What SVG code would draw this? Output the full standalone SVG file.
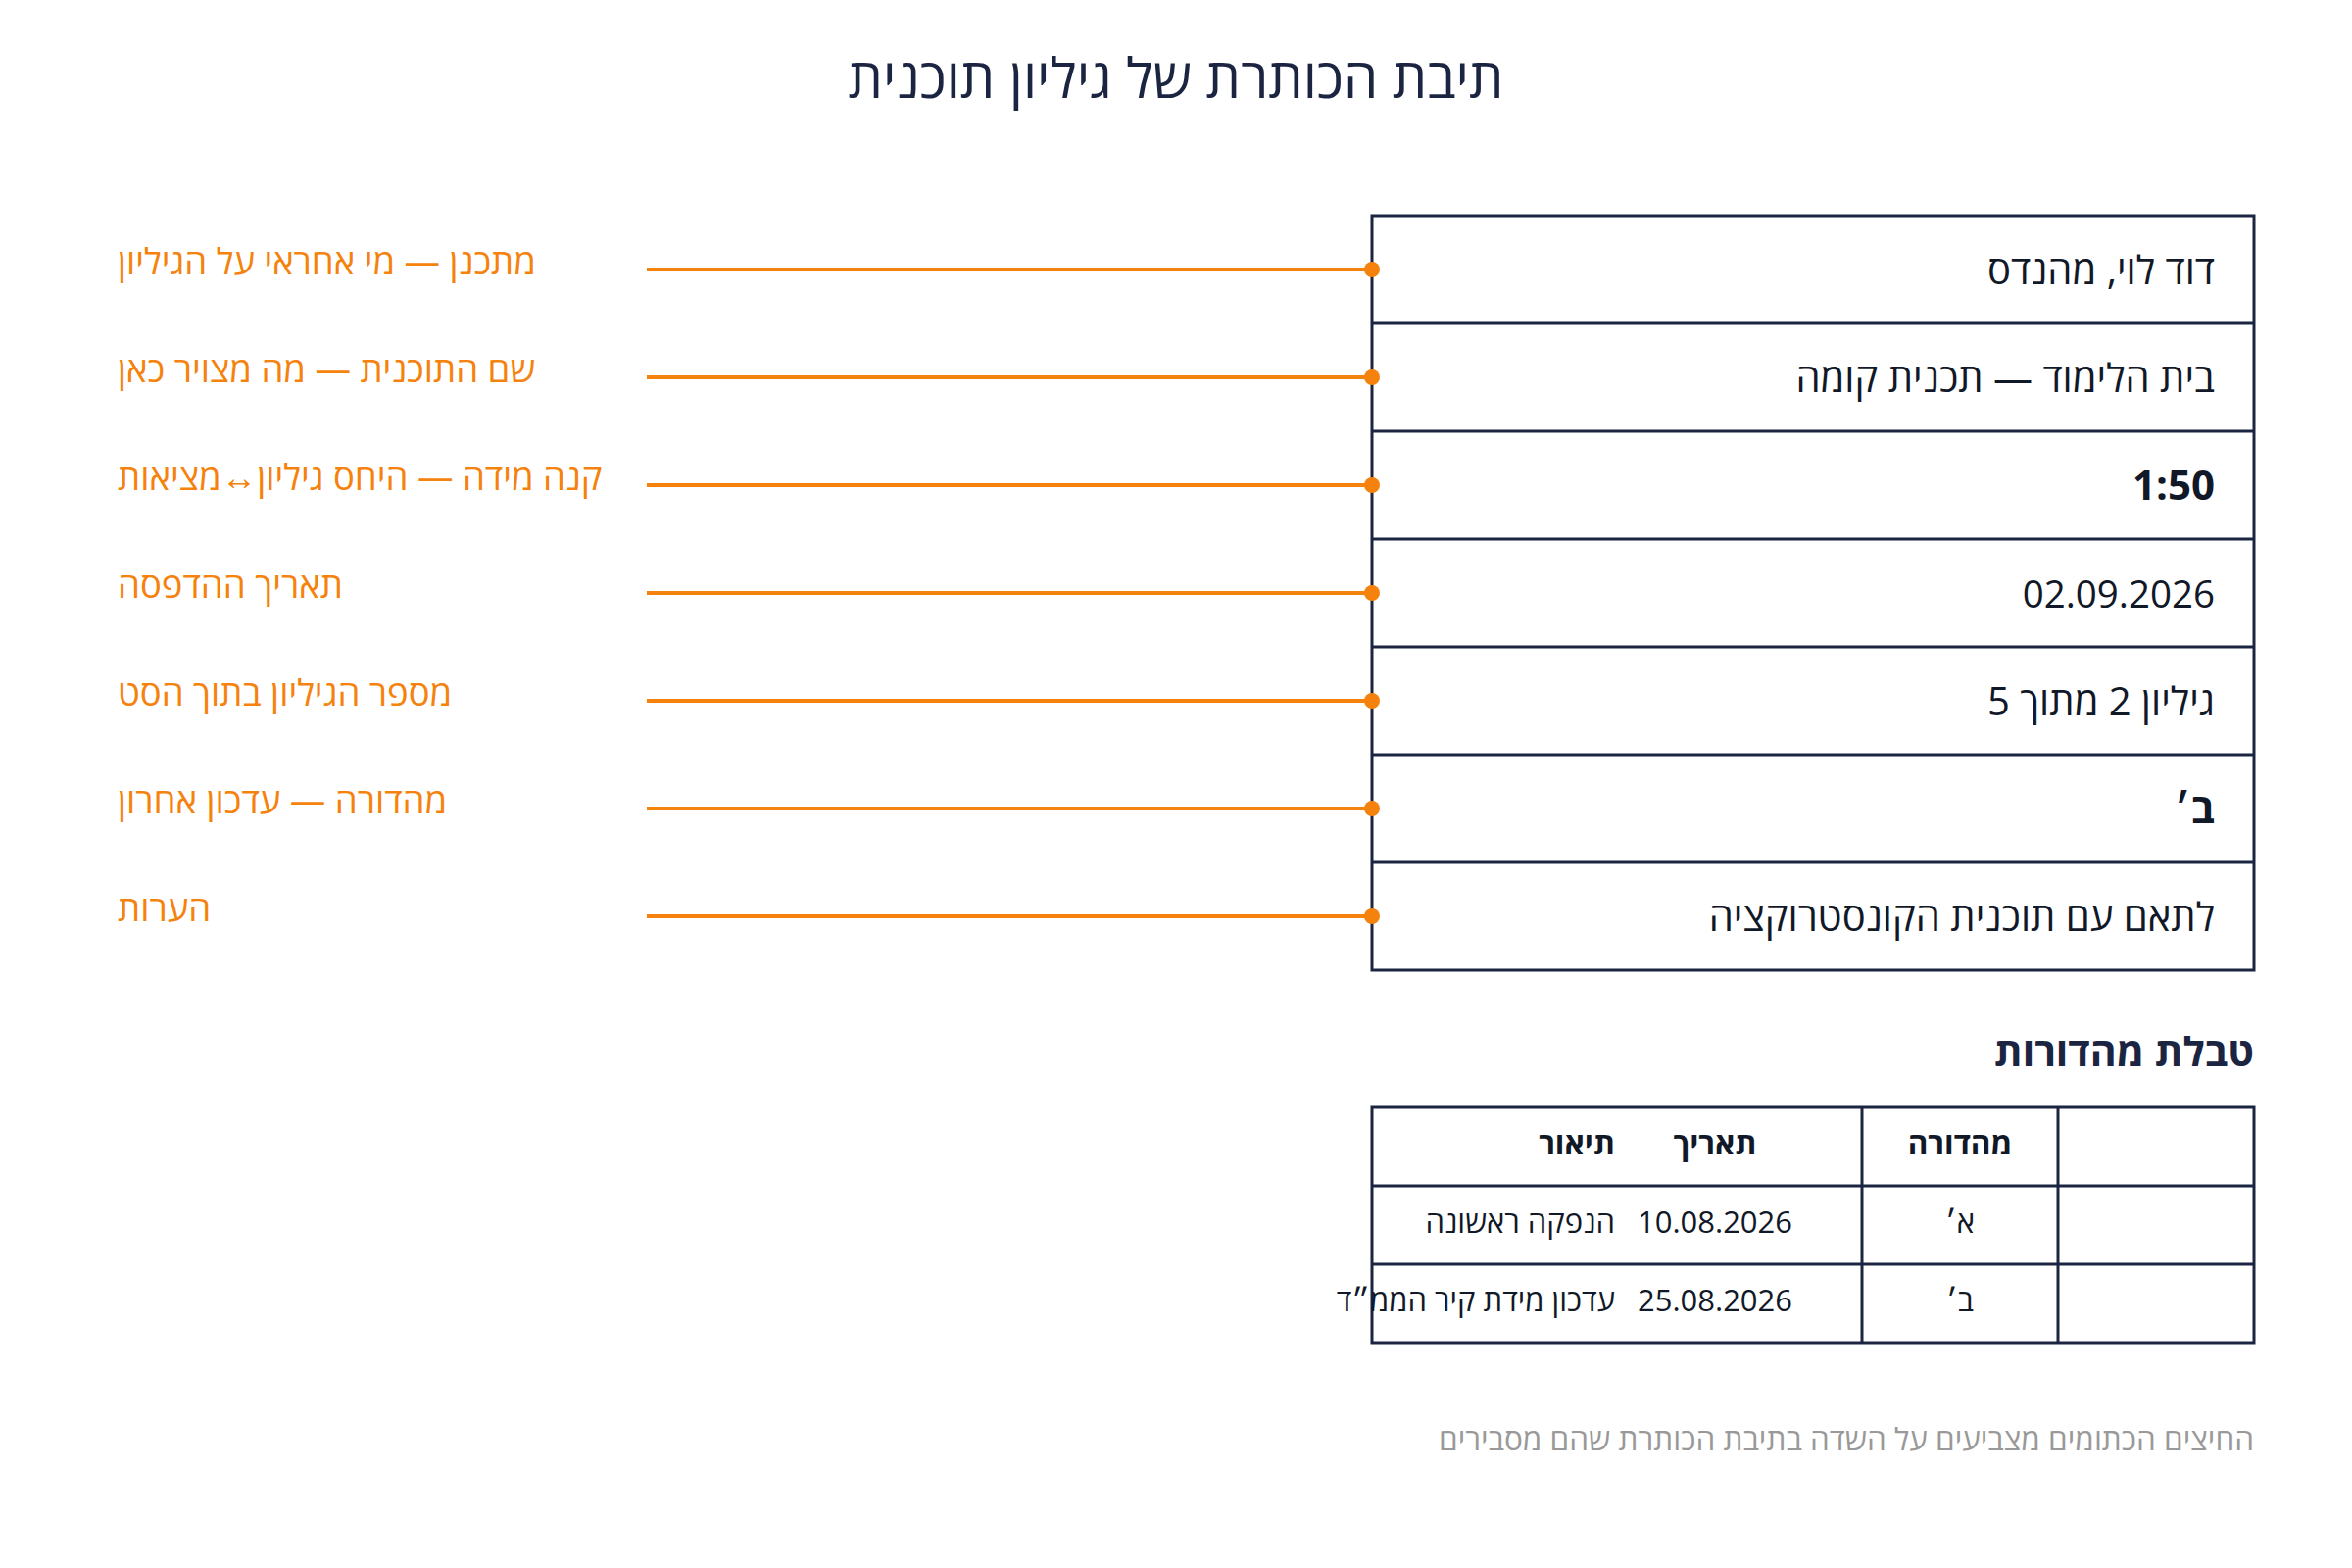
<svg xmlns="http://www.w3.org/2000/svg" width="2400" height="1600" viewBox="0 0 2400 1600">
<style>
text{font-family:"Open Sans","Noto Sans",sans-serif;direction:rtl}
.title{font-size:56px;fill:#1b2440;text-anchor:middle}
.lbl{font-size:36.5px;fill:#f5820d;text-anchor:end}
.val{font-size:40px;fill:#111827;text-anchor:start}
.num{font-size:38.5px}
.b{font-weight:bold;font-size:42px}
.cell{fill:#ffffff;stroke:#1b2440;stroke-width:3}
.grid{stroke:#1b2440;stroke-width:3;fill:none}
.lead{stroke:#f5820d;stroke-width:4}
.dot{fill:#f5820d}
.head{font-size:41px;font-weight:bold;fill:#1b2440;text-anchor:start}
.th{font-size:31.5px;font-weight:bold;fill:#111827}
.td{font-size:31px;fill:#111827}
.foot{font-size:31.5px;fill:#999999;text-anchor:start}
</style>
<rect width="2400" height="1600" fill="#ffffff"/>
<text class="title" x="1200" y="100">תיבת הכותרת של גיליון תוכנית</text>

<g id="titleblock">
<rect class="cell" x="1400" y="220" width="900" height="770"/>
<g id="field-designer"><line class="grid" x1="1400" y1="330" x2="2300" y2="330"/><text class="val" x="2260" y="290">דוד לוי, מהנדס</text></g>
<g id="field-name"><line class="grid" x1="1400" y1="440" x2="2300" y2="440"/><text class="val" x="2260" y="400">בית הלימוד — תכנית קומה</text></g>
<g id="field-scale"><line class="grid" x1="1400" y1="550" x2="2300" y2="550"/><text class="val b" x="2260" y="510">1:50</text></g>
<g id="field-date"><line class="grid" x1="1400" y1="660" x2="2300" y2="660"/><text class="val num" x="2260" y="620">02.09.2026</text></g>
<g id="field-sheet"><line class="grid" x1="1400" y1="770" x2="2300" y2="770"/><text class="val" x="2260" y="730">גיליון 2 מתוך 5</text></g>
<g id="field-rev"><line class="grid" x1="1400" y1="880" x2="2300" y2="880"/><text class="val b" x="2260" y="840">ב׳</text></g>
<g id="field-notes"><text class="val" x="2260" y="950">לתאם עם תוכנית הקונסטרוקציה</text></g>
</g>

<g id="labels">
<text class="lbl" x="120" y="280">מתכנן — מי אחראי על הגיליון</text>
<text class="lbl" x="120" y="390">שם התוכנית — מה מצויר כאן</text>
<text class="lbl" x="120" y="500">קנה מידה — היחס גיליון↔מציאות</text>
<text class="lbl" x="120" y="610">תאריך ההדפסה</text>
<text class="lbl" x="120" y="720">מספר הגיליון בתוך הסט</text>
<text class="lbl" x="120" y="830">מהדורה — עדכון אחרון</text>
<text class="lbl" x="120" y="940">הערות</text>
</g>

<g id="connectors">
<line class="lead" x1="660" y1="275" x2="1400" y2="275"/><circle class="dot" cx="1400" cy="275" r="8"/>
<line class="lead" x1="660" y1="385" x2="1400" y2="385"/><circle class="dot" cx="1400" cy="385" r="8"/>
<line class="lead" x1="660" y1="495" x2="1400" y2="495"/><circle class="dot" cx="1400" cy="495" r="8"/>
<line class="lead" x1="660" y1="605" x2="1400" y2="605"/><circle class="dot" cx="1400" cy="605" r="8"/>
<line class="lead" x1="660" y1="715" x2="1400" y2="715"/><circle class="dot" cx="1400" cy="715" r="8"/>
<line class="lead" x1="660" y1="825" x2="1400" y2="825"/><circle class="dot" cx="1400" cy="825" r="8"/>
<line class="lead" x1="660" y1="935" x2="1400" y2="935"/><circle class="dot" cx="1400" cy="935" r="8"/>
</g>

<g id="revisions">
<text class="head" x="2300" y="1088">טבלת מהדורות</text>
<rect class="cell" x="1400" y="1130" width="900" height="240"/>
<line class="grid" x1="1400" y1="1210" x2="2300" y2="1210"/>
<line class="grid" x1="1400" y1="1290" x2="2300" y2="1290"/>
<line class="grid" x1="1900" y1="1130" x2="1900" y2="1370"/>
<line class="grid" x1="2100" y1="1130" x2="2100" y2="1370"/>
<text class="th" x="2000" y="1178" text-anchor="middle">מהדורה</text>
<text class="th" x="1750" y="1178" text-anchor="middle">תאריך</text>
<text class="th" x="1648" y="1178" text-anchor="start">תיאור</text>
<text class="td" x="2000" y="1258" text-anchor="middle">א׳</text>
<text class="td" x="1750" y="1258" text-anchor="middle">10.08.2026</text>
<text class="td" x="1648" y="1258" text-anchor="start">הנפקה ראשונה</text>
<text class="td" x="2000" y="1338" text-anchor="middle">ב׳</text>
<text class="td" x="1750" y="1338" text-anchor="middle">25.08.2026</text>
<text class="td" x="1648" y="1338" text-anchor="start">עדכון מידת קיר הממ״ד</text>
</g>

<text class="foot" x="2300" y="1480">החיצים הכתומים מצביעים על השדה בתיבת הכותרת שהם מסבירים</text>
</svg>
